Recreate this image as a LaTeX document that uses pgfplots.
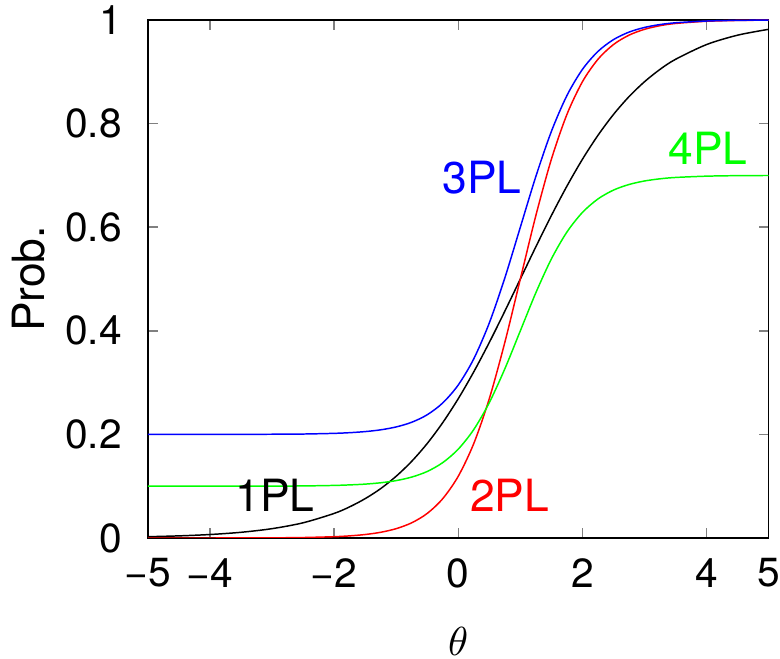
\documentclass[border=0pt]{standalone}
\usepackage{fontspec}
\setmainfont{TeX Gyre Heros}
\usepackage{pgfplots}
\pgfplotsset{compat=1.18}
\usepackage{pgfplotstable}

% theta, 1PL, 2PL, 3PL, 4PL
\pgfplotstableread{
t     p1     p2     p3     p4
-5    0.0025 0.0000 0.2000 0.1000
-4.5  0.0041 0.0000 0.2000 0.1000
-4    0.0067 0.0000 0.2000 0.1000
-3.5  0.0110 0.0001 0.2001 0.1001
-3    0.0180 0.0003 0.2003 0.1002
-2.5  0.0293 0.0009 0.2007 0.1005
-2    0.0474 0.0025 0.2020 0.1015
-1.75 0.0601 0.0041 0.2033 0.1025
-1.5  0.0759 0.0067 0.2054 0.1040
-1.25 0.0953 0.0110 0.2088 0.1066
-1    0.1192 0.0180 0.2144 0.1108
-0.75 0.1480 0.0293 0.2234 0.1176
-0.5  0.1824 0.0474 0.2379 0.1284
-0.25 0.2227 0.0759 0.2607 0.1455
0     0.2689 0.1192 0.2954 0.1715
0.25  0.3208 0.1824 0.3459 0.2094
0.5   0.3775 0.2689 0.4151 0.2613
0.75  0.4378 0.3775 0.5020 0.3265
1     0.5000 0.5000 0.6000 0.4000
1.25  0.5622 0.6225 0.6980 0.4735
1.5   0.6225 0.7311 0.7849 0.5387
1.75  0.6792 0.8176 0.8541 0.5906
2     0.7311 0.8808 0.9046 0.6285
2.25  0.7773 0.9241 0.9393 0.6545
2.5   0.8176 0.9526 0.9621 0.6716
2.75  0.8520 0.9707 0.9766 0.6824
3     0.8808 0.9820 0.9856 0.6892
3.25  0.9047 0.9890 0.9912 0.6934
3.5   0.9241 0.9933 0.9946 0.6960
4     0.9526 0.9975 0.9980 0.6985
4.5   0.9707 0.9991 0.9993 0.6995
5     0.9820 0.9997 0.9997 0.6998
}\irt

\begin{document}
\begin{tikzpicture}
\begin{axis}[
  scale only axis,
  width=167.8pt, height=140pt,
  xmin=-5, xmax=5, ymin=0, ymax=1,
  xtick={-5,-4,-2,0,2,4,5},
  xticklabels={−5,−4,−2,0,2,4,5},
  ytick={0,0.2,0.4,0.6,0.8,1},
  yticklabels={0,0.2,0.4,0.6,0.8,1},
  tick align=inside,
  major tick length=2.7pt,
  tick style={gray, line width=0.4pt},
  axis line style={black, line width=0.4pt},
  ticklabel style={font=\fontsize{11}{13}\selectfont},
  xticklabel style={yshift=-2pt, inner xsep=0pt},
  yticklabel style={xshift=-3.5pt, inner ysep=1.5pt},
  xlabel={\fontsize{11}{13}\selectfont$\theta$},
  ylabel={\fontsize{12}{14}\selectfont Prob.},
  xlabel style={yshift=-6pt, inner ysep=1pt},
  ylabel style={yshift=-1.5pt},
  every axis plot/.append style={line width=0.4pt, smooth, no markers},
]
\addplot[black] table[x=t, y=p1] {\irt};
\addplot[red] table[x=t, y=p2] {\irt};
\addplot[blue] table[x=t, y=p3] {\irt};
\addplot[green] table[x=t, y=p4] {\irt};
\node[black, font=\fontsize{12}{14}\selectfont] at (axis cs:-2.95,0.083) {1PL};
\node[red, font=\fontsize{12}{14}\selectfont] at (axis cs:0.83,0.083) {2PL};
\node[blue, font=\fontsize{12}{14}\selectfont] at (axis cs:0.38,0.695) {3PL};
\node[green, font=\fontsize{12}{14}\selectfont] at (axis cs:4.02,0.753) {4PL};
\end{axis}
\end{tikzpicture}
\end{document}
